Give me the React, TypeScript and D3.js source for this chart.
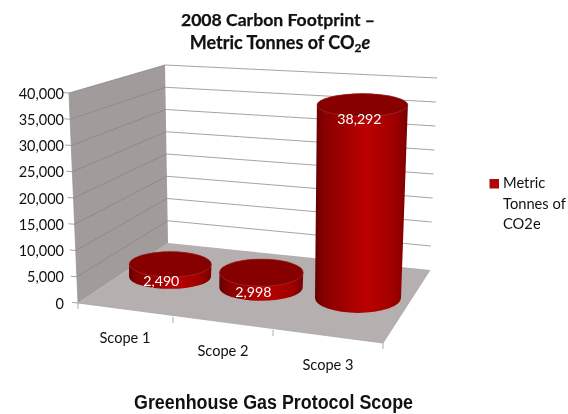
import React from "react";
import * as d3 from "d3";

const categories = ["Scope 1", "Scope 2", "Scope 3"];
const values = [2490, 2998, 38292];
const valueLabels = ["2,490", "2,998", "38,292"];
const yTicks = [0, 5000, 10000, 15000, 20000, 25000, 30000, 35000, 40000];
const legendLines = ["Metric", "Tonnes of", "CO2e"];

const idx = categories.map((_, i) => i);
const height = d3.scaleLinear().domain([0, 40000]).range([0, 201.6]);
const frontY = d3.scaleLinear().domain([0, 40000]).range([303, 93]);
const frontX = d3.scaleLinear().domain([0, 40000]).range([78, 69]);
const backLeftY = d3.scaleLinear().domain([0, 40000]).range([243, 65]);
const backLeftX = d3.scaleLinear().domain([0, 40000]).range([168, 165]);
const backRightY = d3.scaleLinear().domain([0, 40000]).range([270, 78]);
const backRightX = d3.scaleLinear().domain([0, 40000]).range([430, 437]);
const cx = d3.scaleLinear().domain(idx).range([170, 261, 358]);
const baseY = d3.scaleLinear().domain(idx).range([276.8, 287.7, 298]);
const rxBase = d3.scaleLinear().domain(idx).range([41, 41.7, 43]);
const ryBase = d3.scaleLinear().domain(idx).range([12, 13, 15]);
const topShift = d3.scaleLinear().domain([0, 40000]).range([0, 4.6]);
const rxGrow = d3.scaleLinear().domain([0, 40000]).range([0, 2.6]);
const ryShrink = d3.scaleLinear().domain([0, 40000]).range([1, -3.8]);
const tickX = d3.scaleLinear().domain([0, 1, 2, 3]).range([78, 173, 273, 383]);
const tickY = d3.scaleLinear().domain([0, 1, 2, 3]).range([303, 317, 330, 343]);
const labelX = d3.scaleLinear().domain(idx).range([125, 223, 328]);
const labelY = d3.scaleLinear().domain(idx).range([338, 351, 365]);
const valueDx = d3.scaleLinear().domain(idx).range([-9, -8, -3]);
const valueDy = d3.scaleLinear().domain(idx).range([21.7, 24.4, 19]);

const poly = (pts: number[][]) => (d3.line()(pts as [number, number][]) || "") + "Z";
const top = 40000;

export default function App() {
  return (
    <svg width={568} height={414} style={{ position: "absolute", left: 0, top: 0, filter: "blur(0.35px)" }} fontFamily="Lato, Carlito, sans-serif">
      <defs>
        <linearGradient id="cyl" x1="0" x2="1" y1="0" y2="0">
          <stop offset="0" stopColor="#640000" />
          <stop offset="0.1" stopColor="#880000" />
          <stop offset="0.55" stopColor="#bb0000" />
          <stop offset="0.85" stopColor="#a00000" />
          <stop offset="1" stopColor="#7a0000" />
        </linearGradient>
      </defs>
      <rect width={568} height={414} fill="#fff" />
      <path d={poly([[frontX(0), frontY(0)], [backLeftX(0), backLeftY(0)], [backRightX(0), backRightY(0)], [383, 343]])} fill="#b5afaf" />
      <path d={poly([[frontX(0), frontY(0)], [frontX(top), frontY(top)], [backLeftX(top), backLeftY(top)], [backLeftX(0), backLeftY(0)]])} fill="#a19b9b" />
      {yTicks.map(t => (
        <g key={t} stroke="#8f8b8b" strokeWidth={0.8} fill="none">
          {t > 0 && <path d={`M${backLeftX(t)},${backLeftY(t)}L${backRightX(t)},${backRightY(t)}`} />}
          {t > 0 && <path d={`M${frontX(t)},${frontY(t)}L${backLeftX(t)},${backLeftY(t)}`} stroke="#8a8686" />}
          <path d={`M${frontX(t) - 6},${frontY(t) - 0.5}L${frontX(t)},${frontY(t)}`} />
        </g>
      ))}
      <path d={`M${frontX(0)},${frontY(0)}L${frontX(top)},${frontY(top)}`} stroke="#9a9696" strokeWidth={0.8} />
      <path d={`M${tickX(0)},${tickY(0)}L${tickX(3)},${tickY(3)}L${backRightX(0)},${backRightY(0)}`} stroke="#a8a4a4" strokeWidth={0.8} fill="none" />
      {[0, 1, 2, 3].map(i => (
        <path key={i} d={`M${tickX(i)},${tickY(i)}v6`} stroke="#9a9696" strokeWidth={0.8} />
      ))}
      {yTicks.map(t => (
        <text key={t} x={64} y={frontY(t) + 5.5} textAnchor="end" fontSize={14.5} fill="#111">
          {d3.format(",")(t)}
        </text>
      ))}
      {categories.map((c, i) => (
        <text key={c} x={labelX(i)} y={labelY(i) + 5} textAnchor="middle" fontSize={14.6} fill="#111">{c}</text>
      ))}
      {values.map((v, i) => {
        const bx = cx(i), by = baseY(i), rb = rxBase(i), ryb = ryBase(i);
        const tx = bx + topShift(v), ty = by - height(v);
        const rt = rb + rxGrow(v), ryt = ryb + ryShrink(v);
        const d = `M${bx - rb},${by}A${rb},${ryb} 0 0 0 ${bx + rb},${by}L${tx + rt},${ty}A${rt},${ryt} 0 0 0 ${tx - rt},${ty}Z`;
        return (
          <g key={i}>
            <path d={d} fill="url(#cyl)" />
            <ellipse cx={tx} cy={ty} rx={rt} ry={ryt} fill="#860000" stroke="#a34040" strokeWidth={0.5} />
            <text x={tx + valueDx(i)} y={ty + valueDy(i)} textAnchor="middle" fontSize={14.2} fill="#fff">{valueLabels[i]}</text>
          </g>
        );
      })}
      <text x={278} y={26} textAnchor="middle" fontSize={17.6} fontWeight={700} fill="#111" stroke="#111" strokeWidth={0.25}>2008 Carbon Footprint –</text>
      <text x={280} y={49} textAnchor="middle" fontSize={18} fontWeight={700} fill="#111" stroke="#111" strokeWidth={0.25}>
        Metric Tonnes of CO<tspan fontSize={12} dy={3}>2</tspan><tspan fontStyle="italic" dy={-3}>e</tspan>
      </text>
      <rect x={489.5} y={179} width={9.5} height={9.5} fill="#b00808" />
      {legendLines.map((l, i) => (
        <text key={l} x={503} y={188 + i * 20.5} fontSize={14.7} fill="#111">{l}</text>
      ))}
      <text x={273.5} y={409} textAnchor="middle" fontSize={19.5} fontWeight={700} fontFamily="Liberation Sans, Arial, sans-serif" fill="#111" textLength={279} lengthAdjust="spacingAndGlyphs">Greenhouse Gas Protocol Scope</text>
    </svg>
  );
}
